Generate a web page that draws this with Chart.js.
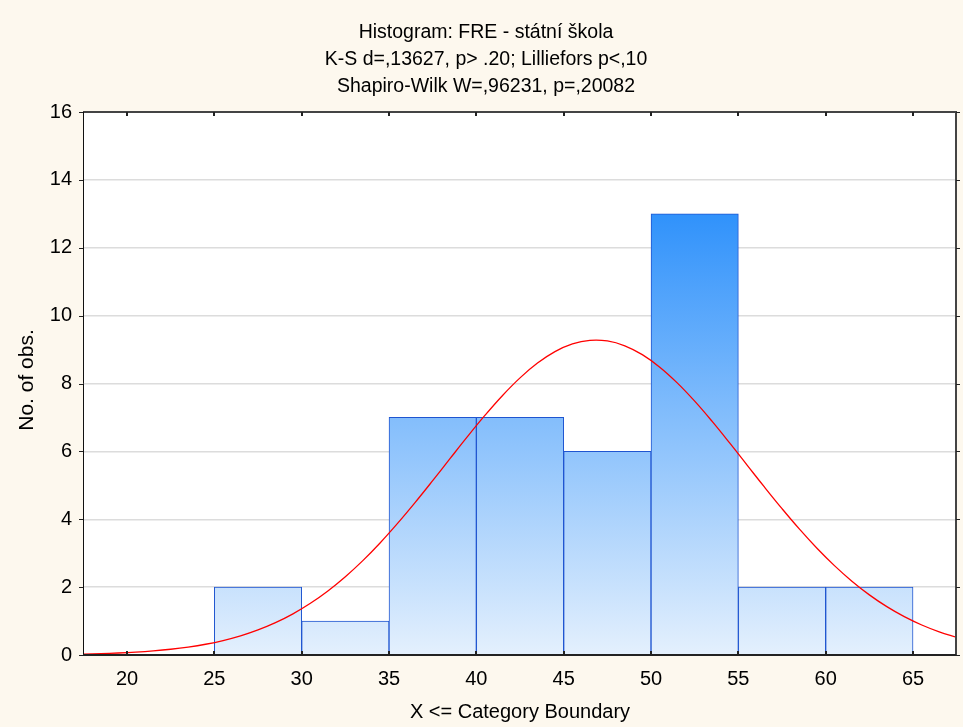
<!DOCTYPE html>
<html>
<head>
<meta charset="utf-8">
<script src="https://cdn.jsdelivr.net/npm/chart.js@4.4.1/dist/chart.umd.min.js"></script>
<style>
  html, body { margin: 0; padding: 0; background: #fdf8ee; }
  #wrap { width: 963px; height: 727px; }
</style>
</head>
<body>
<div id="wrap"><canvas id="c" width="963" height="727"></canvas></div>
<script>
// Histogram of FRE scores (state school) with fitted normal curve
const titleLines = [
  'Histogram: FRE - státní škola',
  'K-S d=,13627, p> .20; Lilliefors p<,10',
  'Shapiro-Wilk W=,96231, p=,20082'
];
const xAxisTitle = 'X <= Category Boundary';
const yAxisTitle = 'No. of obs.';

// category boundaries and observation counts per category
const binEdges = [25, 30, 35, 40, 45, 50, 55, 60, 65];
const counts = [2, 1, 7, 7, 6, 13, 2, 2];

const xTicks = [20, 25, 30, 35, 40, 45, 50, 55, 60, 65];
const yTicks = [0, 2, 4, 6, 8, 10, 12, 14, 16];

// expected-normal curve, sampled along X
const curveX = [17.5, 18.5, 19.5, 20.5, 21.5, 22.5, 23.5, 24.5, 25.5, 26.5, 27.5, 28.5, 29.5,
  30.5, 31.5, 32.5, 33.5, 34.5, 35.5, 36.5, 37.5, 38.5, 39.5, 40.5, 41.5, 42.5, 43.5, 44.5,
  45.5, 46.5, 47.5, 48.5, 49.5, 50.5, 51.5, 52.5, 53.5, 54.5, 55.5, 56.5, 57.5, 58.5, 59.5,
  60.5, 61.5, 62.5, 63.5, 64.5, 65.5, 66.5, 67.5];
const curveY = [0.027, 0.041, 0.059, 0.085, 0.121, 0.169, 0.233, 0.317, 0.426, 0.564, 0.739, 0.953, 1.213,
  1.524, 1.888, 2.307, 2.781, 3.309, 3.885, 4.498, 5.138, 5.792, 6.441, 7.066, 7.648, 8.166, 8.602, 8.940,
  9.167, 9.272, 9.254, 9.111, 8.850, 8.481, 8.018, 7.479, 6.882, 6.248, 5.596, 4.944, 4.311, 3.707, 3.146,
  2.634, 2.175, 1.772, 1.425, 1.130, 0.884, 0.682, 0.519];

const FONT = '"Liberation Sans", Arial, sans-serif';

const barPoints = counts.map((n, i) => ({ x: (binEdges[i] + binEdges[i + 1]) / 2, y: n }));
const curvePoints = curveX.map((x, i) => ({ x: x, y: curveY[i] }));
const maxCount = Math.max(...counts);

function barGradient(context) {
  const chart = context.chart;
  const area = chart.chartArea;
  if (!area) return '#9ccbfc';
  const y = chart.scales.y;
  const g = chart.ctx.createLinearGradient(0, y.getPixelForValue(0), 0, y.getPixelForValue(maxCount));
  g.addColorStop(0, '#e4f0fd');
  g.addColorStop(1, '#3092fb');
  return g;
}

// page background, white plot area, frame, tick marks and text
const decor = {
  id: 'decor',
  beforeDraw(chart) {
    const ctx = chart.ctx, a = chart.chartArea;
    ctx.save();
    ctx.fillStyle = '#fdf8ee';
    ctx.fillRect(0, 0, chart.width, chart.height);
    ctx.fillStyle = '#ffffff';
    ctx.fillRect(a.left, a.top, a.right - a.left, a.bottom - a.top);
    ctx.restore();
  },
  afterDraw(chart) {
    const ctx = chart.ctx, a = chart.chartArea;
    const xs = chart.scales.x, ys = chart.scales.y;
    ctx.save();
    // top and right border
    ctx.strokeStyle = '#444444';
    ctx.lineWidth = 2;
    ctx.beginPath();
    ctx.moveTo(a.left, a.top);
    ctx.lineTo(a.right, a.top);
    ctx.lineTo(a.right, a.bottom);
    ctx.stroke();
    // axis lines
    ctx.strokeStyle = '#111111';
    ctx.lineWidth = 1;
    ctx.beginPath();
    ctx.moveTo(a.left + 0.5, a.top);
    ctx.lineTo(a.left + 0.5, a.bottom);
    ctx.stroke();
    ctx.strokeStyle = '#222222';
    ctx.lineWidth = 2;
    ctx.beginPath();
    ctx.moveTo(a.left, a.bottom);
    ctx.lineTo(a.right, a.bottom);
    ctx.stroke();
    // tick marks
    ctx.lineWidth = 2;
    ctx.strokeStyle = '#222222';
    ctx.beginPath();
    xTicks.forEach(v => {
      const px = Math.round(xs.getPixelForValue(v));
      ctx.moveTo(px, a.bottom); ctx.lineTo(px, a.bottom - 4);
      ctx.moveTo(px, a.top); ctx.lineTo(px, a.top + 4);
    });
    ctx.stroke();
    ctx.lineWidth = 1;
    ctx.beginPath();
    yTicks.forEach(v => {
      const py = Math.round(ys.getPixelForValue(v)) + 0.5;
      ctx.moveTo(a.left, py); ctx.lineTo(a.left - 4, py);
      ctx.moveTo(a.right, py); ctx.lineTo(a.right + 4, py);
    });
    ctx.stroke();
    // titles
    ctx.fillStyle = '#000000';
    ctx.textAlign = 'center';
    ctx.textBaseline = 'middle';
    ctx.font = '19.5px ' + FONT;
    titleLines.forEach((t, i) => ctx.fillText(t, 486, 33 + i * 27));
    ctx.font = '20px ' + FONT;
    ctx.fillText(xAxisTitle, 520, 712);
    ctx.font = '21px ' + FONT;
    ctx.translate(27, 380);
    ctx.rotate(-Math.PI / 2);
    ctx.fillText(yAxisTitle, 0, 0);
    ctx.restore();
  }
};

new Chart(document.getElementById('c'), {
  type: 'bar',
  data: {
    datasets: [
      {
        type: 'line',
        data: curvePoints,
        borderColor: '#ff0000',
        borderWidth: 1.3,
        pointRadius: 0,
        tension: 0.4,
        fill: false,
        order: 0
      },
      {
        type: 'bar',
        data: barPoints,
        backgroundColor: barGradient,
        borderColor: '#1f55d0',
        borderWidth: 1,
        barPercentage: 1,
        categoryPercentage: 1,
        order: 1
      }
    ]
  },
  options: {
    responsive: false,
    animation: false,
    devicePixelRatio: 1,
    layout: { padding: { top: 112, right: 7, left: 0, bottom: 0 } },
    plugins: {
      legend: { display: false },
      title: { display: false },
      tooltip: { enabled: false }
    },
    scales: {
      x: {
        type: 'linear',
        min: 17.48,
        max: 67.46,
        offset: false,
        grid: { display: false, drawTicks: false },
        border: { display: false },
        afterBuildTicks: s => { s.ticks = xTicks.map(v => ({ value: v })); },
        afterFit: s => { s.height = 72; },
        ticks: { color: '#000', font: { family: FONT, size: 20 }, padding: 12, maxRotation: 0, autoSkip: false }
      },
      y: {
        min: 0,
        max: 16,
        grid: { color: '#dcdcdc', lineWidth: 1.5, drawTicks: false },
        border: { display: false },
        afterBuildTicks: s => { s.ticks = yTicks.map(v => ({ value: v })); },
        afterFit: s => { s.width = 83; },
        ticks: { color: '#000', font: { family: FONT, size: 20 }, padding: 11 }
      }
    }
  },
  plugins: [decor]
});
</script>
</body>
</html>
